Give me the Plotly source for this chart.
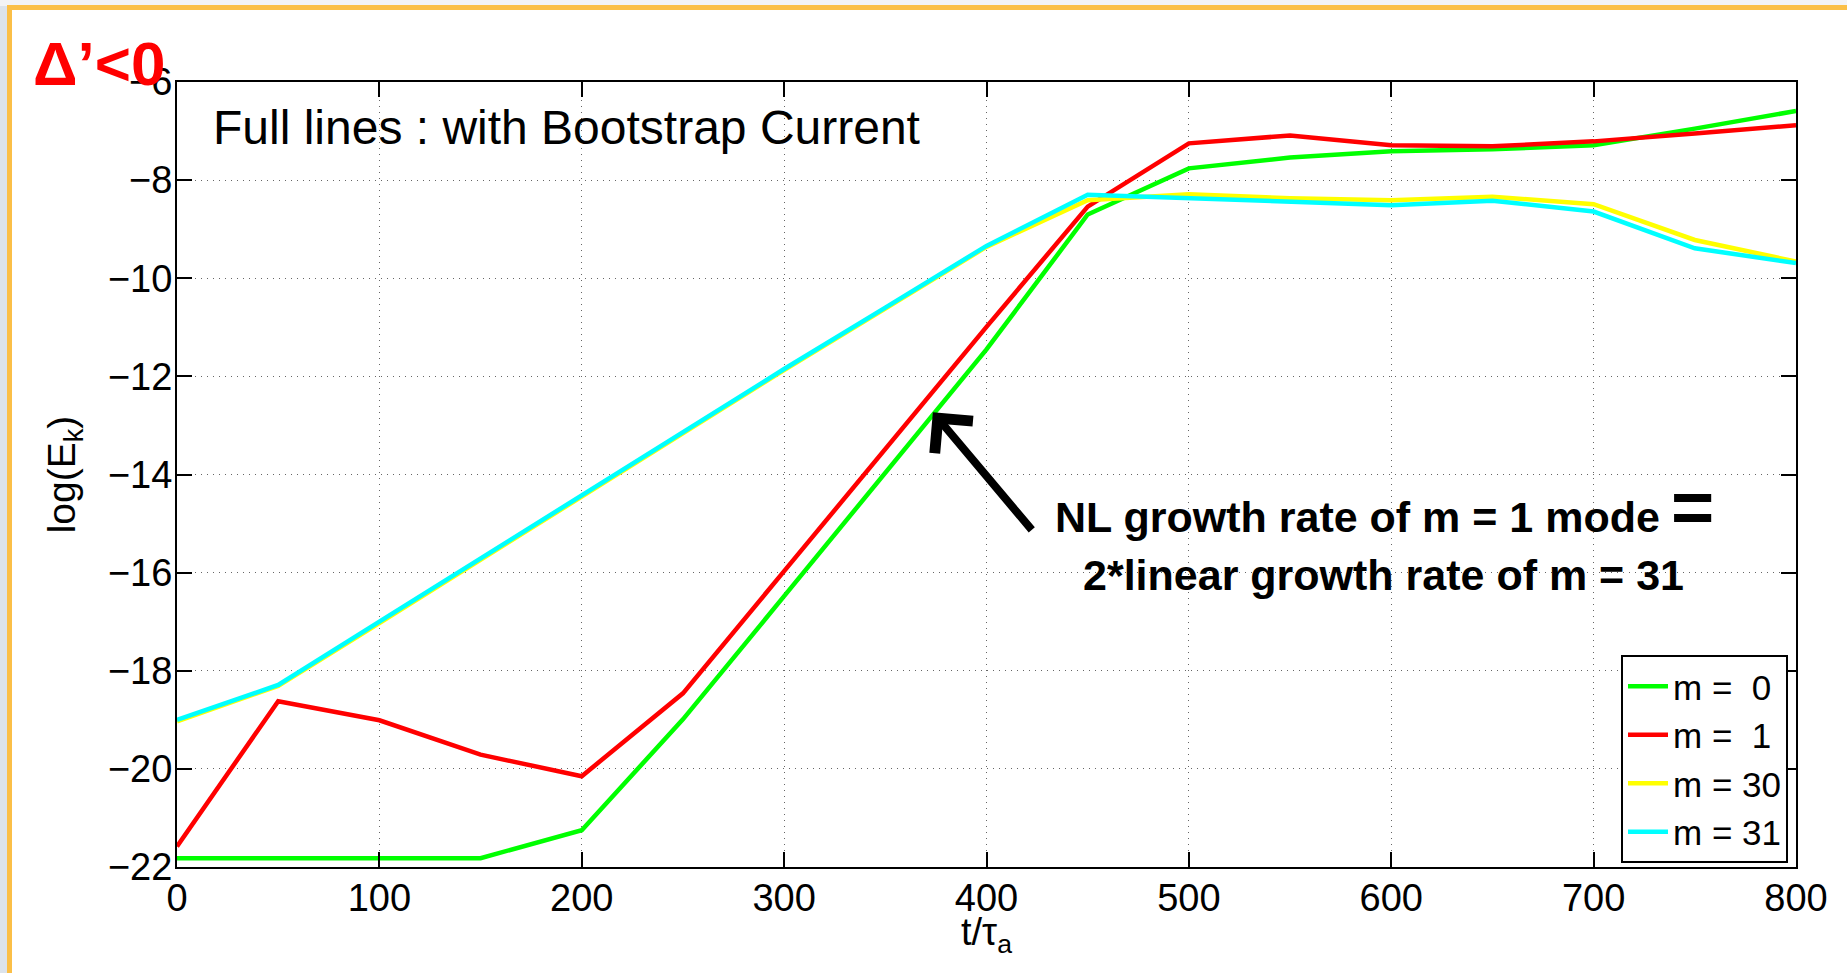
import plotly.graph_objects as go

# ---- data ----
t = [0, 50, 100, 150, 200, 250, 300, 350, 400, 450, 500, 550, 600, 650, 700, 750, 800]
m0 = [-21.82, -21.82, -21.82, -21.82, -21.25, -18.99, -16.48, -13.97, -11.45, -8.70,
      -7.76, -7.54, -7.41, -7.37, -7.29, -6.95, -6.59]
m1 = [-21.58, -18.62, -19.01, -19.71, -20.15, -18.46, -15.97, -13.48, -10.99, -8.54,
      -7.25, -7.09, -7.29, -7.31, -7.21, -7.05, -6.88]
m30 = [-19.03, -18.31, -17.03, -15.74, -14.44, -13.16, -11.87, -10.62, -9.36, -8.41,
       -8.29, -8.37, -8.41, -8.34, -8.49, -9.22, -9.66]
m31 = [-19.00, -18.29, -17.00, -15.71, -14.41, -13.14, -11.85, -10.60, -9.34, -8.30,
       -8.37, -8.44, -8.51, -8.42, -8.64, -9.39, -9.69]
series_names = ["m = \u00a00", "m = \u00a01", "m = 30", "m = 31"]
series_colors = ["#00FF00", "#FF0000", "#FFFF00", "#00FFFF"]
x_ticks = [0, 100, 200, 300, 400, 500, 600, 700, 800]
y_ticks = [-22, -20, -18, -16, -14, -12, -10, -8, -6]

W, H = 1847, 973
L, R, T, B = 177, 51, 82, 106
PW, PH = W - L - R, H - T - B
FONT = "Liberation Sans, Arial, Helvetica, sans-serif"


def px_x(p):
    return (p - L) / PW


def px_y(p):
    return (H - B - p) / PH


fig = go.Figure()
for name, ys, col in zip(series_names, [m0, m1, m30, m31], series_colors):
    fig.add_trace(go.Scatter(x=t, y=ys, mode="lines", name=name,
                             line=dict(color=col, width=4.5)))

axis_common = dict(
    showline=True, linecolor="black", linewidth=2, mirror="ticks",
    ticks="inside", ticklen=15, tickwidth=1.5, tickcolor="black",
    showgrid=True, gridcolor="#666666", gridwidth=1, griddash="1px,5px",
    zeroline=False, tickfont=dict(size=38, color="black", family=FONT),
)

fig.update_xaxes(range=[0, 800], tickvals=x_ticks, ticklabelstandoff=-4, **axis_common)
fig.update_yaxes(range=[-22, -6], tickvals=y_ticks, ticklabelstandoff=-5, **axis_common,
                 title=dict(text="log(E<sub>k</sub>)", font=dict(size=39, color="black", family=FONT),
                            standoff=20))

shapes = [
    # light background strips outside the slide frame
    dict(type="rect", xref="paper", yref="paper", x0=px_x(0), x1=px_x(8), y0=px_y(H), y1=px_y(0),
         fillcolor="#dce3eb", line=dict(width=0), layer="below"),
    dict(type="rect", xref="paper", yref="paper", x0=px_x(0), x1=px_x(W), y0=px_y(6), y1=px_y(0),
         fillcolor="#f3f3f5", line=dict(width=0), layer="below"),
    # orange slide frame
    dict(type="rect", xref="paper", yref="paper", x0=px_x(7), x1=px_x(12), y0=px_y(H), y1=px_y(5),
         fillcolor="#FBBF47", line=dict(width=0), layer="below"),
    dict(type="rect", xref="paper", yref="paper", x0=px_x(7), x1=px_x(W), y0=px_y(10), y1=px_y(5),
         fillcolor="#FBBF47", line=dict(width=0), layer="below"),
]

annotations = [
    dict(text="<b>Δ’<0</b>", xref="paper", yref="paper", x=px_x(99), y=px_y(63),
         xanchor="center", yanchor="middle", showarrow=False,
         font=dict(size=62, color="#FF0000", family=FONT)),
    dict(text="Full lines : with Bootstrap Current", xref="paper", yref="paper",
         x=px_x(211), y=px_y(127), xanchor="left", yanchor="middle", showarrow=False,
         font=dict(size=48, color="black", family=FONT)),
    dict(text="<b>NL growth rate of m = 1 mode</b>", xref="paper", yref="paper",
         x=px_x(1357), y=px_y(517), xanchor="center", yanchor="middle", showarrow=False,
         font=dict(size=43, color="black", family=FONT)),
    dict(text="<b>=</b>", xref="paper", yref="paper",
         x=px_x(1692), y=px_y(507), xanchor="center", yanchor="middle", showarrow=False,
         font=dict(size=74, color="black", family=FONT)),
    dict(text="<b>2*linear growth rate of m = 31</b>", xref="paper", yref="paper",
         x=px_x(1383), y=px_y(575), xanchor="center", yanchor="middle", showarrow=False,
         font=dict(size=43, color="black", family=FONT)),
    # x-axis title placed as in the reference (just under the tick row)
    dict(text="t/τ<sub>a</sub>", xref="paper", yref="paper", x=0.5, y=px_y(935),
         xanchor="center", yanchor="middle", showarrow=False,
         font=dict(size=38, color="black", family=FONT)),
    # arrow
    dict(text="", x=373.5, y=-12.73, xref="x", yref="y", ax=423, ay=-15.16, axref="x", ayref="y",
         showarrow=True, arrowhead=4, arrowsize=1.2, arrowwidth=8, arrowcolor="black", standoff=0),
]

fig.update_layout(
    width=W, height=H, autosize=False,
    margin=dict(l=L, r=R, t=T, b=B, pad=0),
    paper_bgcolor="white", plot_bgcolor="white",
    font=dict(family=FONT, color="black"),
    shapes=shapes, annotations=annotations,
    showlegend=True,
    legend=dict(x=px_x(1788), y=px_y(863), xanchor="right", yanchor="bottom",
                bgcolor="white", bordercolor="black", borderwidth=2,
                font=dict(size=35, color="black", family=FONT),
                tracegroupgap=0, itemwidth=40),
)

fig.write_html("out.html")
